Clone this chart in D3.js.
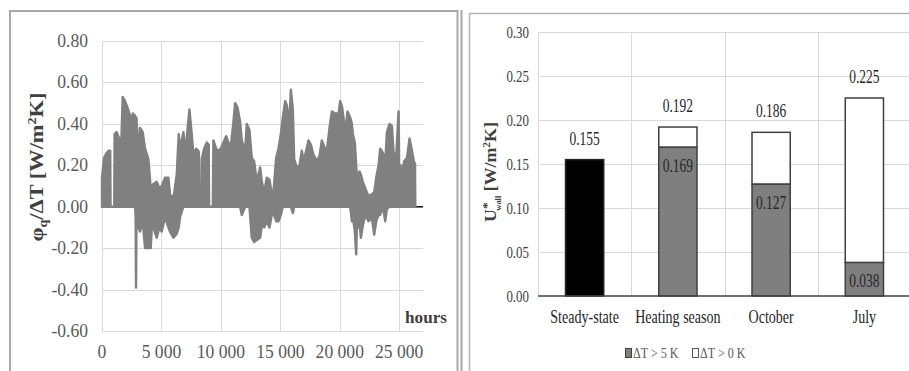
<!DOCTYPE html>
<html>
<head>
<meta charset="utf-8">
<script src="https://cdn.jsdelivr.net/npm/d3@7"></script>
<style>
  body { margin: 0; background: #fff; }
  text { font-family: "Liberation Serif", "Times New Roman", serif; }
</style>
</head>
<body>
<script>
// ---- left chart: phi_q / dT over time (upper / lower envelope of hourly values)
const hours = [0, 170, 390, 560, 690, 720, 1030, 1060, 1235, 1515, 1620, 1740, 1936, 2133, 2357, 2497, 2582, 2778, 2830, 2862,
  2900, 3059, 3199, 3423, 3620, 3900, 4097, 4200, 4321, 4602, 4826, 5023, 5303, 5584, 5724, 6005, 6285, 6454, 6566, 6847,
  6987, 7127, 7352, 7548, 7688, 7913, 8109, 8150, 8180, 8360, 8390, 8586, 8811, 8980, 9007, 9320, 9372, 9597, 9793, 9990,
  10214, 10439, 10635, 10832, 11056, 11196, 11393, 11617, 11758, 12038, 12178, 12403, 12599, 12796, 13020, 13301, 13441, 13637, 13862, 14086,
  14283, 14423, 14647, 14844, 15040, 15209, 15405, 15546, 15770, 15883, 16051, 16163, 16388, 16612, 16808, 16948, 17173, 17369, 17566, 17790,
  18071, 18295, 18492, 18688, 18913, 19137, 19333, 19614, 19895, 20035, 20203, 20456, 20652, 20877, 21017, 21101, 21269, 21382, 21438, 21578,
  21662, 21775, 21943, 22140, 22420, 22701, 22897, 23066, 23262, 23402, 23627, 23823, 23963, 24188, 24384, 24525, 24749, 24946, 24980, 25000,
  25060, 25114, 25226, 25423, 25647, 25871, 26068, 26264, 26330, 26350];
const upper = [0.14, 0.235, 0.26, 0.27, 0.27, 0, 0, 0.35, 0.36, 0.32, 0.30, 0.53, 0.51, 0.48, 0.44, 0.41, 0.45, 0.44, 0.43, 0.43,
  0.43, 0.235, 0.38, 0.36, 0.28, 0.23, 0.09, 0.10, 0.11, 0.12, 0.09, 0.10, 0.14, 0.14, 0.06, 0.04, 0.155, 0.35, 0.28, 0.36,
  0.28, 0.33, 0.47, 0.35, 0.25, 0.28, 0.27, 0.26, 0, 0, 0.23, 0.28, 0.31, 0.30, 0, 0, 0.32, 0.28, 0.27, 0.28,
  0.31, 0.34, 0.31, 0.29, 0.41, 0.50, 0.48, 0.41, 0.32, 0.27, 0.40, 0.37, 0.235, 0.22, 0.12, 0.19, 0.12, 0.07, 0.14, 0.13,
  0.06, 0.07, 0.235, 0.28, 0.35, 0.43, 0.51, 0.49, 0.40, 0.565, 0.47, 0.23, 0.19, 0.20, 0.27, 0.22, 0.27, 0.32, 0.30, 0.25,
  0.22, 0.245, 0.32, 0.29, 0.27, 0.38, 0.46, 0.45, 0.45, 0.51, 0.48, 0.36, 0.46, 0.43, 0.40, 0.35, 0.31, 0.20, 0.155, 0.16,
  0.17, 0.155, 0.12, 0.09, 0.05, 0.06, 0.07, 0.14, 0.20, 0.28, 0.26, 0.21, 0.36, 0.40, 0.39, 0.26, 0.245, 0.46, 0.30, 0,
  0, 0.20, 0.17, 0.22, 0.235, 0.33, 0.27, 0.21, 0.21, 0];
const lower = [0, 0, 0, 0, 0, 0, 0, 0, 0, 0, 0, 0, 0, 0, 0, 0, 0, 0, -0.05, -0.39,
  -0.05, -0.10, -0.12, -0.07, -0.20, -0.20, -0.20, -0.09, -0.10, -0.15, -0.10, -0.12, -0.05, -0.10, -0.12, -0.15, -0.13, -0.10, -0.05, 0,
  0, 0, 0, 0, 0, 0, 0, 0, 0, 0, 0, 0, 0, 0, 0, 0, 0, 0, 0, 0,
  0, 0, 0, 0, 0, 0, 0, 0, -0.04, 0, 0, 0, -0.15, -0.17, -0.16, -0.15, -0.09, -0.10, -0.07, -0.10,
  -0.04, -0.03, -0.07, -0.07, -0.04, 0, 0, 0, 0, 0, -0.03, 0, 0, 0, 0, 0, 0, 0, 0, 0,
  0, 0, 0, 0, 0, 0, 0, 0, 0, 0, 0, 0, 0, 0, -0.07, -0.05, -0.12, -0.23, -0.10, -0.10,
  -0.08, -0.15, -0.09, -0.04, -0.07, -0.055, -0.135, -0.07, -0.04, -0.04, 0, -0.07, -0.01, 0, 0, 0, 0, 0, 0, 0,
  0, 0, 0, 0, 0, 0, 0, 0, 0, 0];
const hourTicks = [0, 5000, 10000, 15000, 20000, 25000];
const phiTicks = [-0.6, -0.4, -0.2, 0, 0.2, 0.4, 0.6, 0.8];

// ---- right chart: U*wall per period
const periods = ['Steady-state', 'Heating season', 'October', 'July'];
const steadyValue = [0.155, null, null, null];
const dtAbove5 = [null, 0.169, 0.127, 0.038];
const dtAbove0 = [null, 0.192, 0.186, 0.225];
const uTicks = [0, 0.05, 0.10, 0.15, 0.20, 0.25, 0.30];

const svg = d3.select('body').append('svg')
  .attr('width', 909)
  .attr('height', 371);

// panel frames
svg.append('path').attr('d', 'M10,371V11H457.5V371')
  .attr('fill', 'none').attr('stroke', '#a8a8a8').attr('stroke-width', 2);
svg.append('line').attr('x1', 461.5).attr('x2', 461.5).attr('y1', 10).attr('y2', 371)
  .attr('stroke', '#a8a8a8').attr('stroke-width', 2);
svg.append('path').attr('d', 'M469.5,371V13.5H909')
  .attr('fill', 'none').attr('stroke', '#b4b4b4').attr('stroke-width', 1.5);

// condensed text helper (the picture is a bit squeezed horizontally)
function label(g, x, y, str, opts) {
  const o = Object.assign({ size: 18, sx: 1, anchor: 'middle', fill: '#595959', weight: 'normal', rotate: 0 }, opts);
  return g.append('text')
    .attr('transform', `translate(${x},${y})` + (o.rotate ? ` rotate(${o.rotate})` : '') + ` scale(${o.sx},1)`)
    .attr('text-anchor', o.anchor)
    .attr('font-size', o.size)
    .attr('font-weight', o.weight)
    .attr('fill', o.fill)
    .text(str);
}

// ================= left chart =================
const left = svg.append('g');
const x = d3.scaleLinear().domain([0, 27000]).range([102, 423]);
const y = d3.scaleLinear().domain([-0.6, 0.8]).range([331, 41]);

left.append('g').selectAll('line.h').data(phiTicks).join('line')
  .attr('x1', x(0)).attr('x2', x(27000))
  .attr('y1', d => Math.round(y(d)) + 0.5).attr('y2', d => Math.round(y(d)) + 0.5)
  .attr('stroke', '#d9d9d9');
left.append('g').selectAll('line.v').data(hourTicks).join('line')
  .attr('x1', d => Math.round(x(d)) + 0.5).attr('x2', d => Math.round(x(d)) + 0.5)
  .attr('y1', y(0.8)).attr('y2', y(-0.6))
  .attr('stroke', '#d9d9d9');

// zero axis
left.append('line')
  .attr('x1', x(0)).attr('x2', x(27000))
  .attr('y1', y(0)).attr('y2', y(0))
  .attr('stroke', '#1a1a1a').attr('stroke-width', 1.5);

const area = d3.area()
  .x((d, i) => x(hours[i]))
  .y0((d, i) => y(lower[i]))
  .y1((d, i) => y(upper[i]));
left.append('path')
  .datum(hours)
  .attr('d', area)
  .attr('fill', '#808080')
  .attr('stroke', '#808080')
  .attr('stroke-width', 2.4)
  .attr('stroke-linejoin', 'round');

const yFmt = v => d3.format('.2f')(v).replace('−', '-');
phiTicks.forEach(v => label(left, 88, y(v) + 6, yFmt(v), { anchor: 'end', size: 18.5, sx: 0.95 }));

const xFmt = d3.formatLocale({ decimal: '.', thousands: ' ', grouping: [3], currency: ['', ''] }).format(',');
hourTicks.forEach(v => label(left, x(v), 358, xFmt(v), { size: 18.5, sx: 0.95 }));

label(left, 426, 323, 'hours', { size: 17.5, weight: 'bold', fill: '#404040', sx: 0.98 });

// y title: phi_q / dT [W/m2K]
const lt = left.append('text')
  .attr('transform', 'translate(43,167) rotate(-90) scale(1.18,1)')
  .attr('text-anchor', 'middle')
  .attr('font-size', 19)
  .attr('font-weight', 'bold')
  .attr('fill', '#404040');
lt.append('tspan').text('φ');
lt.append('tspan').attr('font-size', 12).attr('dy', 4).text('q');
lt.append('tspan').attr('dy', -4).text('/ΔT [W/m');
lt.append('tspan').attr('font-size', 12).attr('dy', -7).text('2');
lt.append('tspan').attr('dy', 7).text('K]');

// ================= right chart =================
const right = svg.append('g');
const xb = d3.scaleBand().domain(periods).range([538, 911]).paddingInner(0.59).paddingOuter(0.295);
const yb = d3.scaleLinear().domain([0, 0.30]).range([296, 32]);

right.append('g').selectAll('line').data(uTicks.filter(d => d > 0)).join('line')
  .attr('x1', 538).attr('x2', 909)
  .attr('y1', d => Math.round(yb(d)) + 0.5).attr('y2', d => Math.round(yb(d)) + 0.5)
  .attr('stroke', '#d9d9d9');
right.append('g').selectAll('line').data(periods).join('line')
  .attr('x1', d => Math.round(xb(d) - xb.step() * xb.paddingInner() / 2) + 0.5)
  .attr('x2', d => Math.round(xb(d) - xb.step() * xb.paddingInner() / 2) + 0.5)
  .attr('y1', yb(0.30)).attr('y2', yb(0))
  .attr('stroke', '#d9d9d9');

const rows = periods.map((p, i) => ({ p, steady: steadyValue[i], gt5: dtAbove5[i], gt0: dtAbove0[i] }));

// white part (dT > 0 K) drawn from dT > 5 K up to total
right.append('g').selectAll('rect').data(rows.filter(d => d.gt0 != null)).join('rect')
  .attr('x', d => xb(d.p)).attr('width', xb.bandwidth())
  .attr('y', d => yb(d.gt0)).attr('height', d => yb(d.gt5) - yb(d.gt0))
  .attr('fill', '#fff').attr('stroke', '#404040').attr('stroke-width', 1.5);
right.append('g').selectAll('rect').data(rows.filter(d => d.gt5 != null)).join('rect')
  .attr('x', d => xb(d.p)).attr('width', xb.bandwidth())
  .attr('y', d => yb(d.gt5)).attr('height', d => yb(0) - yb(d.gt5))
  .attr('fill', '#7f7f7f').attr('stroke', '#404040').attr('stroke-width', 1.5);
right.append('g').selectAll('rect').data(rows.filter(d => d.steady != null)).join('rect')
  .attr('x', d => xb(d.p)).attr('width', xb.bandwidth())
  .attr('y', d => yb(d.steady)).attr('height', d => yb(0) - yb(d.steady))
  .attr('fill', '#000').attr('stroke', '#262626').attr('stroke-width', 1.5);

right.append('line')
  .attr('x1', 538).attr('x2', 909)
  .attr('y1', yb(0)).attr('y2', yb(0))
  .attr('stroke', '#404040').attr('stroke-width', 1.5);

const vFmt = d3.format('.3f');
rows.forEach(d => {
  const cx = xb(d.p) + xb.bandwidth() / 2;
  const total = d.steady != null ? d.steady : d.gt0;
  label(right, cx, yb(total) - 15, vFmt(total), { size: 18, sx: 0.75, fill: '#262626' });
  if (d.gt5 != null) label(right, cx, yb(d.gt5) + 24.5, vFmt(d.gt5), { size: 18, sx: 0.75, fill: '#262626' });
  label(right, cx, 323, d.p, { size: 19, sx: 0.74, fill: '#262626' });
});

uTicks.forEach(v => label(right, 529, yb(v) + 5.5, yFmt(v), { anchor: 'end', size: 17, sx: 0.76, fill: '#404040' }));

// y title: U*wall [W/m2K]
const rt = right.append('text')
  .attr('transform', 'translate(496,172) rotate(-90) scale(1.05,1)')
  .attr('text-anchor', 'middle')
  .attr('font-size', 17)
  .attr('font-weight', 'bold')
  .attr('fill', '#404040');
rt.append('tspan').text('U');
rt.append('tspan').attr('font-size', 13).attr('dy', -5).text('*');
rt.append('tspan').attr('font-size', 8).attr('dx', -8).attr('dy', 10).text('wall');
rt.append('tspan').attr('dy', -5).text(' [W/m');
rt.append('tspan').attr('font-size', 11).attr('dy', -6).text('2');
rt.append('tspan').attr('dy', 6).text('K]');

// legend
const lg = right.append('g');
lg.append('rect').attr('x', 625.5).attr('y', 348.5).attr('width', 6).attr('height', 9)
  .attr('fill', '#7f7f7f').attr('stroke', '#404040');
label(lg, 633, 358, 'ΔT > 5 K', { anchor: 'start', size: 15.5, sx: 0.78 });
lg.append('rect').attr('x', 692.5).attr('y', 348.5).attr('width', 6).attr('height', 9)
  .attr('fill', '#fff').attr('stroke', '#595959');
label(lg, 700, 358, 'ΔT > 0 K', { anchor: 'start', size: 15.5, sx: 0.78 });
</script>
</body>
</html>
